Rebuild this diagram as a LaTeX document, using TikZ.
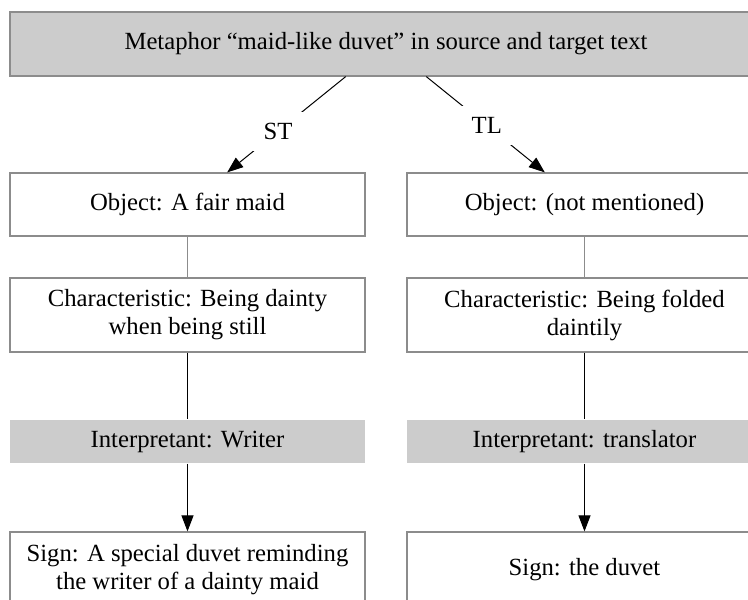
\documentclass[tikz,border=0pt]{standalone}
\usepackage{fontspec}
\setmainfont{Liberation Serif}
\usepackage{tikz}
\usetikzlibrary{arrows.meta, positioning}

\tikzset{
	framebox/.style={draw=black!45, line width=1.2pt, minimum width=355pt, inner sep=0pt, align=center, font=\fontsize{24.7}{28}\selectfont},
	shadebox/.style={framebox, draw=none, fill=black!20},
	tag/.style={fill=white, inner sep=11pt, font=\fontsize{24.7}{28}\selectfont},
	link/.style={line width=1pt},
	arr/.style={link, -{Triangle[length=16pt,width=12pt]}}
}

\begin{document}
\begin{tikzpicture}[x=1pt, y=-1pt]
	
	%//page frame, top left at (0,0)
	\clip (0,0) rectangle (748,600);
	
	\node [framebox, fill=black!20, minimum width=752pt, minimum height=64pt] (meta) at (386,44) {Metaphor “maid-like duvet” in source and target text};
	
	\def\xl{187.5}
	\def\xr{584.5}
	
	%//left column (ST)
	\node [framebox, minimum height=63pt] (objL) at (\xl,204.5) {Object: A fair maid};
	\node [framebox, minimum height=74pt] (charL) at (\xl,315) {Characteristic: Being dainty\\when being still};
	\node [shadebox, minimum height=43pt] (intL) at (\xl,441.5) {Interpretant: Writer};
	\node [framebox, minimum height=76pt] (signL) at (\xl,570) {Sign: A special duvet reminding\\the writer of a dainty maid};
	
	%//right column (TL)
	\node [framebox, minimum height=63pt] (objR) at (\xr,204.5) {Object: (not mentioned)};
	\node [framebox, minimum height=74pt] (charR) at (\xr,315) {Characteristic: Being folded\\daintily};
	\node [shadebox, minimum height=43pt] (intR) at (\xr,441.5) {Interpretant: translator};
	\node [framebox, minimum height=76pt] (signR) at (\xr,570) {Sign: the duvet};
	
	\draw [arr] (meta) -- node [tag, pos=0.57] {ST} (objL);
	\draw [arr] (meta) -- node [tag, pos=0.51] {TL} (objR);
	
	\foreach \c in {L,R}
	{
		\draw [link, draw=black!45] (obj\c) -- (char\c);
		\draw [link] (char\c) -- (int\c);
		\draw [arr] (int\c) -- (sign\c);
	}
	
\end{tikzpicture}
\end{document}
